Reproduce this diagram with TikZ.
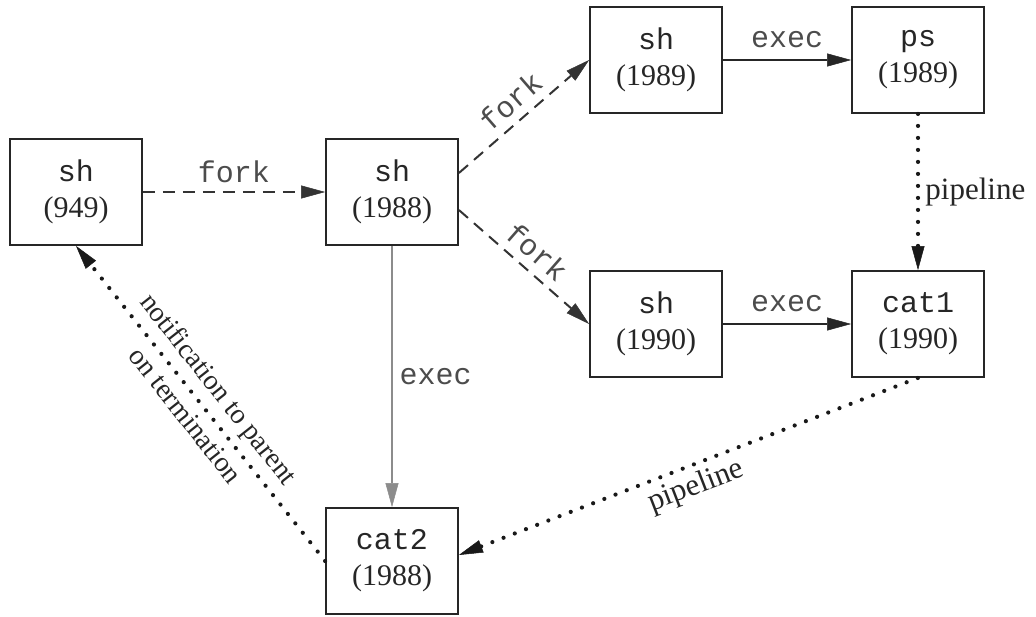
\documentclass[tikz,border=0pt]{standalone}
\usepackage{fontspec}
\setmainfont{Liberation Serif}
\setmonofont{Liberation Mono}
\usetikzlibrary{arrows.meta}
\begin{document}
\begin{tikzpicture}[x=1pt,y=-1pt,
  >={Triangle[length=24pt,width=13pt,line width=0.5pt]},
  box/.style={draw=black!85, line width=1.8pt, minimum width=132pt, minimum height=106pt,
    inner sep=0pt, align=center, font=\fontsize{30}{36}\selectfont, text=black!85},
  forkline/.style={->, draw=black!80, line width=2pt, dash pattern=on 12pt off 8pt},
  execline/.style={->, draw=black!85, line width=2pt},
  grayexec/.style={->, draw=black!45, line width=2.5pt},
  pipeline/.style={draw=black!90, line width=4.2pt, dash pattern=on 0pt off 12pt, line cap=round},
  lbl/.style={font=\fontsize{31}{36}\selectfont, text=black!85},
  nlbl/.style={font=\fontsize{28}{34}\selectfont, text=black!85},
  tlbl/.style={font=\ttfamily\fontsize{30}{35}\selectfont, text=black!70}
]
\fill[white] (0,0) rectangle (1036,616);

\node[box] (sh949)  at (76,192)  {\texttt{sh}\\(949)};
\node[box] (sh1988) at (392,192) {\texttt{sh}\\(1988)};
\node[box] (sh1989) at (656,60)  {\texttt{sh}\\(1989)};
\node[box] (ps)     at (918,60)  {\texttt{ps}\\(1989)};
\node[box] (sh1990) at (656,324) {\texttt{sh}\\(1990)};
\node[box] (cat1)   at (918,324) {\texttt{cat1}\\(1990)};
\node[box] (cat2)   at (392,561) {\texttt{cat2}\\(1988)};

\draw[forkline] (sh949) -- (sh1988) node[midway, above=5pt, tlbl] {fork};
\draw[forkline] ([yshift=19pt]sh1988.east) -- (sh1989.west)
  node[midway, sloped, above=5pt, tlbl] {fork};
\draw[forkline] ([yshift=-18pt]sh1988.east) -- (sh1990.west)
  node[midway, sloped, above=5pt, tlbl] {fork};

\draw[execline] (sh1989) -- (ps) node[midway, above=8pt, tlbl] {exec};
\draw[execline] (sh1990) -- (cat1) node[midway, above=8pt, tlbl] {exec};
\draw[grayexec] (sh1988) -- (cat2) node[midway, right=3pt, tlbl] {exec};

\draw[pipeline, ->] (ps) -- (cat1) node[midway, right=2pt, lbl] {pipeline};
\draw[pipeline, <-] ([yshift=6pt]cat2.east) -- (cat1.south)
  node[midway, sloped, below=2pt, lbl] {pipeline};
\draw[pipeline, ->] (cat2.west) -- (sh949.south)
  node[midway, sloped, above=3pt, nlbl] {notification to parent}
  node[midway, sloped, below=4pt, nlbl] {on termination};
\end{tikzpicture}
\end{document}
